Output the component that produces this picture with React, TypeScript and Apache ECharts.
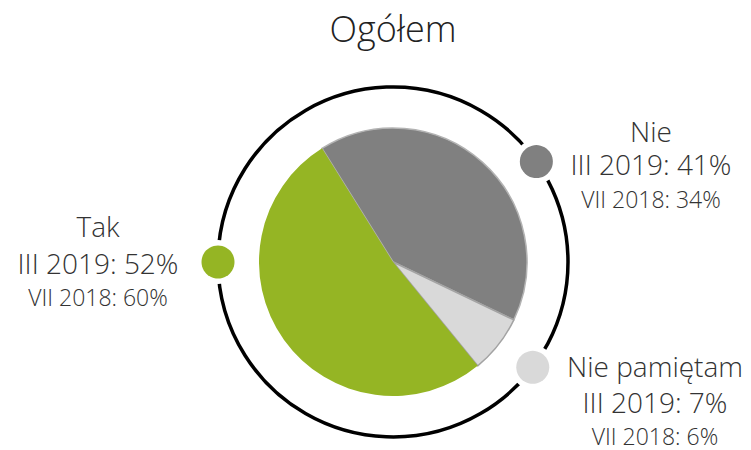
import React, { useEffect, useRef } from "react";
import * as echarts from "echarts";

const title = "Ogółem";
const categories = ["Nie", "Nie pamiętam", "Tak"];
const values2019 = [41, 7, 52];
const values2018 = [34, 6, 60];
const colors = ["#808080", "#d9d9d9", "#95b524"];
const borderColors = ["#b3b3b3", "#a3a3a3", "transparent"];
const label2019 = "III 2019";
const label2018 = "VII 2018";

const FONT = "'Open Sans', 'DejaVu Sans', sans-serif";

export default function App() {
  const ref = useRef<HTMLDivElement>(null);
  useEffect(() => {
    document.body.style.margin = "0";
    const chart = echarts.init(ref.current!, null, { renderer: "svg" });
    const cx = 393;
    const cy = 262;
    const R = 175;
    const dots = [
      { ang: 35, lx: 651, ly: [142, 175, 208] },
      { ang: -37, lx: 655, ly: [377, 413, 445] },
      { ang: 180, lx: 98, ly: [237, 274, 306] },
    ];
    const graphics: any[] = [
      {
        type: "circle",
        shape: { cx, cy, r: R },
        style: { fill: "none", stroke: "#000", lineWidth: 3.5 },
        z: 1,
      },
    ];
    categories.forEach((c, i) => {
      const d = dots[i];
      const a = (d.ang * Math.PI) / 180;
      const px = cx + R * Math.cos(a);
      const py = cy - R * Math.sin(a);
      graphics.push({
        type: "circle",
        shape: { cx: px, cy: py, r: 22 },
        style: { fill: "#fff" },
        z: 2,
      });
      graphics.push({
        type: "circle",
        shape: { cx: px, cy: py, r: 16.5 },
        style: { fill: colors[i] },
        z: 3,
      });
      const lines = [
        { t: c, fs: 28 },
        { t: `${label2019}: ${values2019[i]}%`, fs: 28 },
        { t: `${label2018}: ${values2018[i]}%`, fs: 23 },
      ];
      lines.forEach((l, j) => {
        graphics.push({
          type: "text",
          x: d.lx,
          y: d.ly[j] - 0.39 * l.fs,
          style: {
            text: l.t,
            fill: "#333",
            font: `300 ${l.fs}px ${FONT}`,
            lineHeight: l.fs,
            textAlign: "center",
            textVerticalAlign: "middle",
          },
          z: 3,
        });
      });
    });
    graphics.push({
      type: "text",
      x: 393,
      y: 43 - 0.39 * 36,
      style: {
        text: title,
        fill: "#222",
        font: `300 36px ${FONT}`,
        textAlign: "center",
        textVerticalAlign: "middle",
      },
      z: 3,
    });

    chart.setOption({
      animation: false,
      backgroundColor: "#fff",
      series: [
        {
          type: "pie",
          center: [cx, cy],
          radius: [0, 134],
          startAngle: 122,
          clockwise: true,
          label: { show: false },
          labelLine: { show: false },
          emphasis: { disabled: true },
          data: categories.map((c, i) => ({
            name: c,
            value: values2019[i],
            itemStyle: {
              color: colors[i],
              borderColor: borderColors[i],
              borderWidth: i === 2 ? 0 : 1.5,
            },
          })),
        },
      ],
      graphic: graphics,
    });
    return () => chart.dispose();
  }, []);
  return <div ref={ref} style={{ width: 751, height: 450 }} />;
}
